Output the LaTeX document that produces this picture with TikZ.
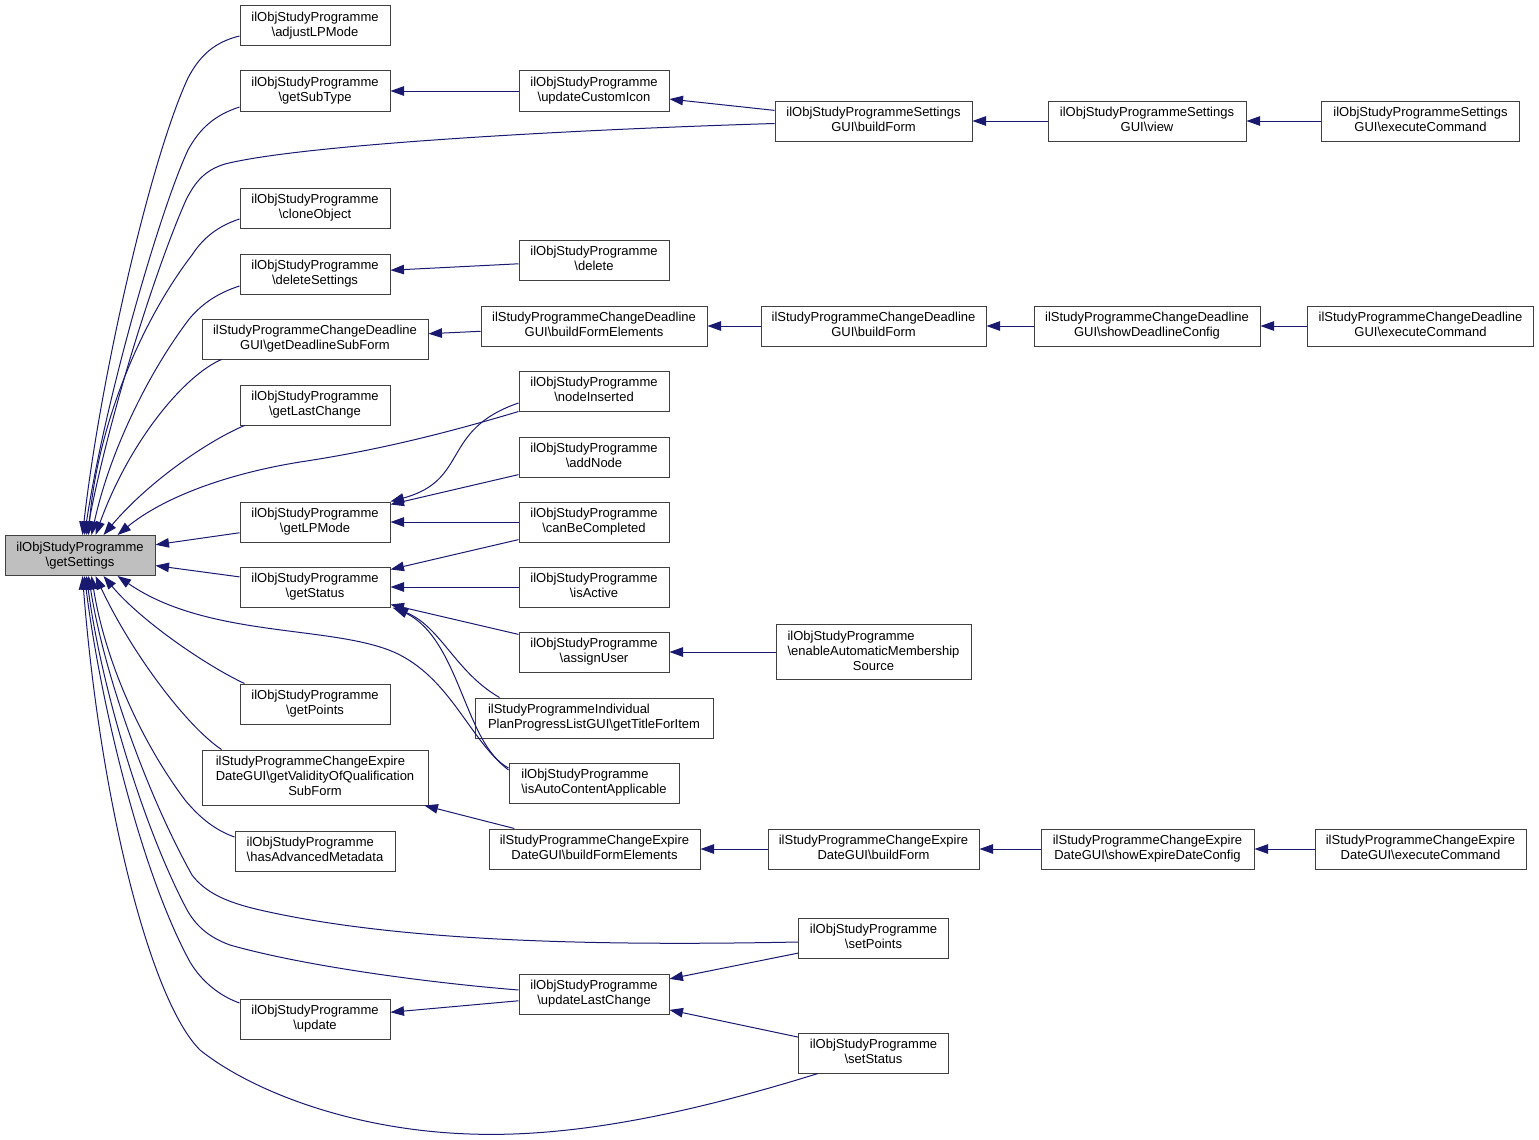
\documentclass[tikz,border=0pt]{standalone}
\usepackage{fontspec}
\setsansfont{Liberation Sans}
\usetikzlibrary{arrows.meta}
\definecolor{callblue}{HTML}{191970}
\definecolor{rootgrey}{HTML}{BFBFBF}
\newcommand{\bsl}{\textbackslash}
% labels: upper lines flush left, last line centred
\newcommand{\fnlabel}[2]{\begin{tabular}{@{}l@{}}#1\\\multicolumn{1}{@{}c@{}}{#2}\end{tabular}}
\newcommand{\fnlabelx}[3]{\begin{tabular}{@{}l@{}}#1\\#2\\\multicolumn{1}{@{}c@{}}{#3}\end{tabular}}

\begin{document}
\begin{tikzpicture}[x=1pt, y=-1pt,
    nodes = {font=\sffamily\fontsize{13}{15}\selectfont},
    fn/.style = {draw=black!75, line width=1pt, fill=white, inner sep=0pt,
                 minimum width=150, minimum height=40},
    call/.style = {draw=callblue, line width=1pt,
                   -{Triangle[length=13.5pt,width=9.5pt]}}]
  \useasboundingbox (0,0) rectangle (1539,1140);

  % the function itself
  \node[fn, fill=rootgrey] (root) at (80,555.5) {\fnlabel{ilObjStudyProgramme}{\bsl getSettings}};

  % direct callers
  \node[fn] (adjust)  at (315,26)  {\fnlabel{ilObjStudyProgramme}{\bsl adjustLPMode}};
  \node[fn] (subtype) at (315,91)  {\fnlabel{ilObjStudyProgramme}{\bsl getSubType}};
  \node[fn] (clone)   at (315,208) {\fnlabel{ilObjStudyProgramme}{\bsl cloneObject}};
  \node[fn] (delset)  at (315,274) {\fnlabel{ilObjStudyProgramme}{\bsl deleteSettings}};
  \node[fn, minimum width=226] (dlsub) at (315,339)
    {\fnlabel{ilStudyProgrammeChangeDeadline}{GUI\bsl getDeadlineSubForm}};
  \node[fn] (lastch)  at (315,405) {\fnlabel{ilObjStudyProgramme}{\bsl getLastChange}};
  \node[fn] (lpmode)  at (315,522) {\fnlabel{ilObjStudyProgramme}{\bsl getLPMode}};
  \node[fn] (status)  at (315,587) {\fnlabel{ilObjStudyProgramme}{\bsl getStatus}};
  \node[fn] (points)  at (315,704) {\fnlabel{ilObjStudyProgramme}{\bsl getPoints}};
  \node[fn, minimum width=226, minimum height=55] (validity) at (315,777.5)
    {\fnlabelx{ilStudyProgrammeChangeExpire}{DateGUI\bsl getValidityOfQualification}{SubForm}};
  \node[fn, minimum width=160] (hasmeta) at (315,851)
    {\fnlabel{ilObjStudyProgramme}{\bsl hasAdvancedMetadata}};
  \node[fn] (update)  at (315,1019) {\fnlabel{ilObjStudyProgramme}{\bsl update}};

  % second level
  \node[fn] (customicon) at (594,91)  {\fnlabel{ilObjStudyProgramme}{\bsl updateCustomIcon}};
  \node[fn] (delete)     at (594,260) {\fnlabel{ilObjStudyProgramme}{\bsl delete}};
  \node[fn, minimum width=226] (dlelem) at (594,326)
    {\fnlabel{ilStudyProgrammeChangeDeadline}{GUI\bsl buildFormElements}};
  \node[fn] (nodeins)    at (594,391) {\fnlabel{ilObjStudyProgramme}{\bsl nodeInserted}};
  \node[fn] (addnode)    at (594,457) {\fnlabel{ilObjStudyProgramme}{\bsl addNode}};
  \node[fn] (canbe)      at (594,522) {\fnlabel{ilObjStudyProgramme}{\bsl canBeCompleted}};
  \node[fn] (isactive)   at (594,587) {\fnlabel{ilObjStudyProgramme}{\bsl isActive}};
  \node[fn] (assign)     at (594,652) {\fnlabel{ilObjStudyProgramme}{\bsl assignUser}};
  \node[fn, minimum width=238] (titleitem) at (594,718)
    {\fnlabel{ilStudyProgrammeIndividual}{PlanProgressListGUI\bsl getTitleForItem}};
  \node[fn, minimum width=170] (autocont) at (594,783)
    {\fnlabel{ilObjStudyProgramme}{\bsl isAutoContentApplicable}};
  \node[fn, minimum width=211] (exelem) at (594.5,849)
    {\fnlabel{ilStudyProgrammeChangeExpire}{DateGUI\bsl buildFormElements}};
  \node[fn] (updlast)    at (594,994) {\fnlabel{ilObjStudyProgramme}{\bsl updateLastChange}};

  % third level
  \node[fn, minimum width=197] (sbuild) at (873.5,121)
    {\fnlabel{ilObjStudyProgrammeSettings}{GUI\bsl buildForm}};
  \node[fn, minimum width=225] (dlbuild) at (873.5,326)
    {\fnlabel{ilStudyProgrammeChangeDeadline}{GUI\bsl buildForm}};
  \node[fn, minimum width=195, minimum height=55] (enable) at (873.5,652)
    {\fnlabelx{ilObjStudyProgramme}{\bsl enableAutomaticMembership}{Source}};
  \node[fn, minimum width=211] (exbuild) at (873.5,849)
    {\fnlabel{ilStudyProgrammeChangeExpire}{DateGUI\bsl buildForm}};
  \node[fn] (setpoints) at (873.5,938)  {\fnlabel{ilObjStudyProgramme}{\bsl setPoints}};
  \node[fn] (setstatus) at (873.5,1053) {\fnlabel{ilObjStudyProgramme}{\bsl setStatus}};

  % fourth and fifth level
  \node[fn, minimum width=198] (sview) at (1147,121)
    {\fnlabel{ilObjStudyProgrammeSettings}{GUI\bsl view}};
  \node[fn, minimum width=226] (dlshow) at (1147,326)
    {\fnlabel{ilStudyProgrammeChangeDeadline}{GUI\bsl showDeadlineConfig}};
  \node[fn, minimum width=213] (exshow) at (1147.5,849)
    {\fnlabel{ilStudyProgrammeChangeExpire}{DateGUI\bsl showExpireDateConfig}};
  \node[fn, minimum width=198] (sexec) at (1420.5,121)
    {\fnlabel{ilObjStudyProgrammeSettings}{GUI\bsl executeCommand}};
  \node[fn, minimum width=226] (dlexec) at (1420.5,326)
    {\fnlabel{ilStudyProgrammeChangeDeadline}{GUI\bsl executeCommand}};
  \node[fn, minimum width=211] (exexec) at (1420.5,849)
    {\fnlabel{ilStudyProgrammeChangeExpire}{DateGUI\bsl executeCommand}};

  % straight calls, caller/callee
  \foreach \from/\to in {customicon/subtype, sbuild/customicon, sview/sbuild, sexec/sview,
      delete/delset, dlelem/dlsub, dlbuild/dlelem, dlshow/dlbuild, dlexec/dlshow,
      addnode/lpmode, canbe/lpmode, canbe/status, isactive/status, assign/status,
      enable/assign, exelem/validity, exbuild/exelem, exshow/exbuild, exexec/exshow,
      updlast/update, setpoints/updlast, setstatus/updlast, lpmode/root, status/root}
    \draw[call] (\from) -- (\to);

  % curved calls into getLPMode and getStatus
  \draw[call] ([yshift=-12pt]nodeins.west) .. controls (440,430) and (470,480) .. (lpmode.north east);
  \draw[call] ([xshift=25pt]titleitem.north west) .. controls (455,672) and (440,625)
    .. ([xshift=2pt]status.south east);
  \draw[call] ([yshift=15pt]autocont.west) .. controls (465,745) and (460,640)
    .. ([xshift=4pt]status.south east);

  % curved calls into the top of getSettings
  \draw[call] ([yshift=-10pt]adjust.west) .. controls (215,42) and (200,55) .. (188,78)
    .. controls (150,160) and (100,380) .. ([xshift=78pt]root.north west);
  \draw[call] ([yshift=-16pt]subtype.west) .. controls (215,115) and (200,128) .. (188,150)
    .. controls (160,210) and (105,400) .. ([xshift=80pt]root.north west);
  \draw[call] ([yshift=-2.5pt]sbuild.west) .. controls (560,130) and (300,145) .. (225,164)
    .. controls (205,170) and (195,182) .. (186,200)
    .. controls (155,270) and (108,420) .. ([xshift=82pt]root.north west);
  \draw[call] ([yshift=-11pt]clone.west) .. controls (218,226) and (203,238) .. (192,255)
    .. controls (142,320) and (97,425) .. ([xshift=84pt]root.north west);
  \draw[call] ([yshift=-12pt]delset.west) .. controls (218,293) and (203,303) .. (190,318)
    .. controls (150,370) and (110,450) .. ([xshift=87pt]root.north west);
  \draw[call] ([xshift=20pt]dlsub.south west) .. controls (185,375) and (130,440)
    .. ([xshift=91pt]root.north west);
  \draw[call] ([xshift=5pt]lastch.south west) .. controls (210,440) and (150,480)
    .. ([xshift=99pt]root.north west);
  \draw[call] (nodeins.south west) .. controls (450,432) and (380,450) .. (300,462)
    .. controls (220,475) and (160,500) .. ([xshift=113pt]root.north west);

  % curved calls into the bottom of getSettings
  \draw[call] ([yshift=13pt]autocont.west) .. controls (470,740) and (452,682) .. (400,655)
    .. controls (340,624) and (210,640) .. ([xshift=113pt]root.south west);
  \draw[call] ([xshift=5pt]points.north west) .. controls (205,665) and (140,620)
    .. ([xshift=99pt]root.south west);
  \draw[call] ([xshift=20pt]validity.north west) .. controls (185,725) and (130,650)
    .. ([xshift=91pt]root.south west);
  \draw[call] ([yshift=14pt]hasmeta.west) .. controls (215,830) and (200,818) .. (185,800)
    .. controls (140,740) and (105,660) .. ([xshift=87pt]root.south west);
  \draw[call] ([yshift=-4pt]setpoints.west) .. controls (600,946) and (400,942) .. (260,910)
    .. controls (225,902) and (205,892) .. (192,875)
    .. controls (150,800) and (105,680) .. ([xshift=84pt]root.south west);
  \draw[call] ([yshift=4pt]updlast.west) .. controls (420,982) and (300,965) .. (230,945)
    .. controls (208,937) and (195,925) .. (186,908)
    .. controls (140,820) and (100,680) .. ([xshift=82pt]root.south west);
  \draw[call] ([yshift=16pt]update.west) .. controls (220,996) and (202,982) .. (190,962)
    .. controls (140,870) and (100,700) .. ([xshift=80pt]root.south west);
  \draw[call] ([xshift=20pt]setstatus.south west) .. controls (700,1110) and (580,1138) .. (470,1134)
    .. controls (350,1130) and (250,1090) .. (200,1050)
    .. controls (150,1000) and (100,800) .. ([xshift=78pt]root.south west);
\end{tikzpicture}
\end{document}
